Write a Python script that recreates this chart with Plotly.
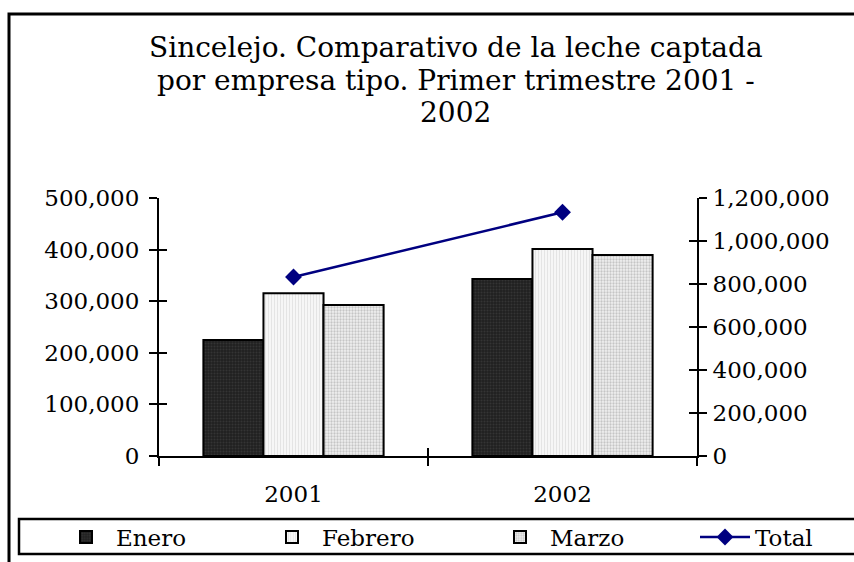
import plotly.graph_objects as go

years = ["2001", "2002"]
enero = [224800, 343000]
febrero = [315300, 401000]
marzo = [292600, 389500]
total = [832700, 1133500]

left_ticks = [0, 100000, 200000, 300000, 400000, 500000]
right_ticks = [0, 200000, 400000, 600000, 800000, 1000000, 1200000]

title_lines = ["Sincelejo. Comparativo de la leche captada",
               "por empresa tipo. Primer trimestre 2001 -",
               "2002"]

FONT = "DejaVu Serif"
FS = 23

# plot-area pixel geometry
L, R, T, B = 159, 697, 198, 456
W, H = R - L, B - T
def px(x):
    return (x - L) / W
def py(y):
    return (B - y) / H

fig = go.Figure()
fig.add_trace(go.Bar(
    x=years, y=enero, name="Enero", legend="legend",
    marker=dict(color="#2a2a2a", line=dict(color="black", width=2),
                pattern=dict(shape=".", bgcolor="#202020", fgcolor="#474747", size=3, solidity=0.4)),
))
fig.add_trace(go.Bar(
    x=years, y=febrero, name="Febrero", legend="legend2",
    marker=dict(color="#f2f2f2", line=dict(color="black", width=2),
                pattern=dict(shape="|", bgcolor="#f6f6f6", fgcolor="#cfcfcf", size=3, solidity=0.3)),
))
fig.add_trace(go.Bar(
    x=years, y=marzo, name="Marzo", legend="legend3",
    marker=dict(color="#dddddd", line=dict(color="black", width=2),
                pattern=dict(shape=".", bgcolor="#f0f0f0", fgcolor="#9a9a9a", size=3, solidity=0.45)),
))
fig.add_trace(go.Scatter(
    x=years, y=total, name="Total", yaxis="y2", mode="lines+markers", legend="legend4",
    line=dict(color="#000080", width=2.5),
    marker=dict(symbol="diamond", size=13, color="#000080"),
))
# empty helper traces so the inward-tick overlay axes get drawn
fig.add_trace(go.Scatter(x=[], y=[], xaxis="x2", yaxis="y3", showlegend=False, hoverinfo="skip"))
fig.add_trace(go.Scatter(x=[], y=[], xaxis="x2", yaxis="y4", showlegend=False, hoverinfo="skip"))

axis_common = dict(showgrid=False, zeroline=False, linecolor="black", linewidth=2,
                   tickcolor="black", tickwidth=2, automargin=False,
                   tickfont=dict(family=FONT, size=FS, color="black"))
inner_tick = dict(ticklen=8, tickwidth=2, tickcolor="black", showticklabels=False,
                  showline=False, showgrid=False, zeroline=False, automargin=False)

def legend_at(xpix):
    return dict(orientation="h", x=px(xpix), y=py(537), xanchor="left", yanchor="middle",
                bgcolor="rgba(0,0,0,0)", borderwidth=0, itemwidth=50,
                font=dict(family=FONT, size=FS, color="black"))

fig.update_layout(
    width=854, height=562,
    margin=dict(l=L, r=854 - R, t=T, b=562 - B, pad=0, autoexpand=False),
    paper_bgcolor="white", plot_bgcolor="white",
    barmode="group", bargap=0.33, bargroupgap=0,
    showlegend=True,
    font=dict(family=FONT, size=FS, color="black"),
    xaxis=dict(type="category", showline=True, ticks="outside", ticklen=8,
               tickson="boundaries", ticklabelstandoff=16, range=[-0.5, 1.5], **axis_common),
    xaxis2=dict(overlaying="x", anchor="y3", range=[-0.5, 1.5], tickvals=[-0.5, 0.5, 1.5],
                ticks="inside", **inner_tick),
    yaxis=dict(range=[0, 500000], tickvals=left_ticks, tickformat=",d", showline=True,
               ticks="outside", ticklen=8, ticklabelstandoff=5, **axis_common),
    yaxis2=dict(range=[0, 1200000], tickvals=right_ticks, tickformat=",d", overlaying="y",
                side="right", showline=True, ticks="outside", ticklen=8, ticklabelstandoff=1,
                **axis_common),
    yaxis3=dict(overlaying="y", side="left", anchor="x2", range=[0, 500000], tickvals=left_ticks,
                ticks="inside", **inner_tick),
    yaxis4=dict(overlaying="y", side="right", anchor="x2", range=[0, 1200000], tickvals=right_ticks,
                ticks="inside", **inner_tick),
    legend=legend_at(56),
    legend2=legend_at(262),
    legend3=legend_at(490),
    legend4=legend_at(695),
    annotations=[dict(
        text=t, x=px(456), y=py(yy), xref="paper", yref="paper", xanchor="center", yanchor="middle",
        showarrow=False, font=dict(family=FONT, size=28, color="black"),
    ) for t, yy in zip(title_lines, [47, 80, 112])],
    shapes=[
        dict(type="rect", xref="paper", yref="paper", x0=px(9), x1=px(900), y0=py(14), y1=py(620),
             line=dict(color="black", width=3), fillcolor="rgba(0,0,0,0)"),
        dict(type="rect", xref="paper", yref="paper", x0=px(19), x1=px(900), y0=py(519), y1=py(554),
             line=dict(color="black", width=2.5), fillcolor="rgba(0,0,0,0)"),
    ],
)

fig.write_html("out.html", config={"displayModeBar": False},
               post_script="document.body.style.margin='0';")
